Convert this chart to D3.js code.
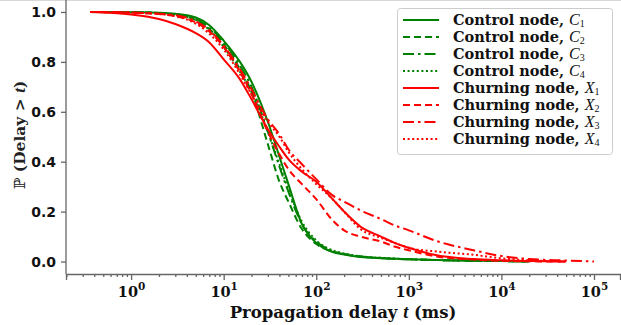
<!DOCTYPE html>
<html>
<head>
<meta charset="utf-8">
<script src="https://cdn.jsdelivr.net/npm/d3@7"></script>
<style>
  body { margin: 0; background: #fff; }
  svg { display: block; }
</style>
</head>
<body>
<svg id="chart" width="621" height="325"></svg>
<script>
// propagation delay samples (ms), shared by all curves
const delays = [0.36, 1, 2, 3, 5, 7, 10, 15, 20, 30, 40, 50, 70, 100, 150, 200, 300, 500, 700, 1000, 2000, 5000, 10000, 20000, 50000, 100000];

// P(Delay > t), null = curve already ended
const control1 = [1.0, 0.999, 0.997, 0.993, 0.978, 0.947, 0.885, 0.80, 0.72, 0.56, 0.42, 0.31, 0.15, 0.075, 0.038, 0.028, 0.018, 0.013, 0.011, 0.009, 0.006, 0.003, 0.002, 0.0, null, null];
const control2 = [1.0, 0.999, 0.995, 0.988, 0.968, 0.932, 0.87, 0.77, 0.68, 0.47, 0.32, 0.24, 0.13, 0.07, 0.04, 0.03, 0.02, 0.014, 0.011, 0.009, 0.006, 0.003, 0.002, 0.0, null, null];
const control3 = [1.0, 0.999, 0.996, 0.99, 0.972, 0.937, 0.88, 0.785, 0.70, 0.52, 0.38, 0.28, 0.15, 0.08, 0.042, 0.03, 0.02, 0.014, 0.011, 0.009, 0.006, 0.003, 0.002, 0.0, null, null];
const control4 = [1.0, 0.999, 0.995, 0.988, 0.968, 0.928, 0.86, 0.76, 0.68, 0.52, 0.39, 0.29, 0.16, 0.085, 0.045, 0.032, 0.021, 0.015, 0.012, 0.009, 0.006, 0.003, 0.002, 0.0, null, null];
const churn1 = [1.0, 0.99, 0.972, 0.952, 0.915, 0.878, 0.81, 0.73, 0.65, 0.53, 0.46, 0.41, 0.36, 0.32, 0.25, 0.20, 0.14, 0.10, 0.075, 0.055, 0.025, 0.01, 0.005, 0.002, 0.0, null];
const churn2 = [1.0, 0.997, 0.992, 0.983, 0.958, 0.922, 0.86, 0.76, 0.67, 0.52, 0.43, 0.37, 0.31, 0.25, 0.165, 0.125, 0.10, 0.08, 0.06, 0.045, 0.02, 0.008, 0.003, 0.001, 0.0, null];
const churn3 = [1.0, 0.998, 0.993, 0.987, 0.963, 0.927, 0.865, 0.77, 0.69, 0.57, 0.51, 0.45, 0.39, 0.33, 0.265, 0.24, 0.205, 0.17, 0.145, 0.125, 0.082, 0.045, 0.022, 0.01, 0.004, 0.0];
const churn4 = [1.0, 0.997, 0.992, 0.983, 0.953, 0.913, 0.85, 0.75, 0.67, 0.56, 0.50, 0.44, 0.37, 0.31, 0.25, 0.20, 0.13, 0.095, 0.075, 0.055, 0.04, 0.027, 0.013, 0.005, 0.0, null];

const seriesNames = ["Control node, ", "Control node, ", "Control node, ", "Control node, ",
                     "Churning node, ", "Churning node, ", "Churning node, ", "Churning node, "];
const seriesSymbols = ["C", "C", "C", "C", "X", "X", "X", "X"];
const seriesIndex = ["1", "2", "3", "4", "1", "2", "3", "4"];
const seriesValues = [control1, control2, control3, control4, churn1, churn2, churn3, churn4];

const yTicks = [0.0, 0.2, 0.4, 0.6, 0.8, 1.0];
const xMajorTicks = [1, 10, 100, 1000, 10000, 100000];

const colors = ["green", "green", "green", "green", "red", "red", "red", "red"];
const dashes = [null, "7,4", "11,4,2.5,4", "2,2.6", null, "7,4", "11,4,2.5,4", "2,2.6"];

const svg = d3.select("#chart");
const serif = "'DejaVu Serif', serif";
const mathFont = "'Liberation Serif', serif";

const xScale = d3.scaleLog().domain([0.198, 191000]).range([66, 620]);
const yScale = d3.scaleLinear().domain([-0.05, 1.05]).range([274, -0.5]);

// faint frame line at the top
svg.append("line")
   .attr("x1", 0).attr("x2", 621).attr("y1", 0.5).attr("y2", 0.5)
   .attr("stroke", "#d8d8d8").attr("stroke-width", 1);

// curves
const line = d3.line()
               .defined(d => d[1] !== null)
               .x(d => xScale(d[0]))
               .y(d => yScale(d[1]))
               .curve(d3.curveMonotoneX);

seriesValues.forEach((vals, i) => {
  svg.append("path")
     .datum(delays.map((t, k) => [t, vals[k]]))
     .attr("d", line)
     .attr("fill", "none")
     .attr("stroke", colors[i])
     .attr("stroke-width", 2)
     .attr("stroke-dasharray", dashes[i]);
});

// x axis: minor ticks first, then majors with labels
const minorTicks = [];
for (let e = -1; e <= 5; e++) {
  for (let m = 2; m <= 9; m++) {
    const v = m * Math.pow(10, e);
    if (v >= 0.198 && v <= 191000) minorTicks.push(v);
  }
}

svg.append("g")
   .attr("class", "x-minor")
   .attr("transform", "translate(0,274)")
   .call(d3.axisBottom(xScale).tickValues(minorTicks).tickSize(3).tickFormat(""))
   .call(g => g.select(".domain").remove());

const xAxis = svg.append("g")
   .attr("class", "x-axis")
   .attr("transform", "translate(0,274)")
   .call(d3.axisBottom(xScale).tickValues(xMajorTicks).tickSize(6).tickFormat(""));

xAxis.selectAll(".tick").append("text")
     .attr("y", 23)
     .attr("text-anchor", "middle")
     .attr("fill", "#111")
     .style("font-family", serif)
     .style("font-weight", "bold")
     .style("font-size", "14.5px")
     .each(function(d) {
       const t = d3.select(this);
       t.append("tspan").text("10");
       t.append("tspan").attr("dy", -7).style("font-size", "10.5px").text(Math.round(Math.log10(d)));
     });

// y axis
svg.append("g")
   .attr("class", "y-axis")
   .attr("transform", "translate(66,0)")
   .call(d3.axisLeft(yScale).tickValues(yTicks).tickSize(5).tickPadding(5).tickFormat(d3.format(".1f")))
   .call(g => g.select(".domain").attr("d", "M0,-0.5V274"))
   .selectAll("text")
   .attr("fill", "#111")
   .style("font-family", "'DejaVu Sans', sans-serif")
   .style("font-weight", "bold")
   .style("font-size", "14px");

svg.selectAll(".x-axis path, .x-axis line, .x-minor line, .y-axis path, .y-axis line")
   .attr("stroke", "#666")
   .attr("stroke-width", 1.3);

// axis titles
const xTitle = svg.append("text")
   .attr("x", 343).attr("y", 318)
   .attr("text-anchor", "middle")
   .attr("fill", "#111")
   .style("font-family", serif).style("font-weight", "bold").style("font-size", "16.5px");
xTitle.append("tspan").text("Propagation delay ");
xTitle.append("tspan").style("font-family", mathFont).style("font-style", "italic").style("font-size", "18px").text("t");
xTitle.append("tspan").text(" (ms)");

const yTitle = svg.append("text")
   .attr("transform", "translate(25,135) rotate(-90)")
   .attr("text-anchor", "middle")
   .attr("fill", "#222")
   .style("font-family", serif).style("font-weight", "bold").style("font-size", "15.5px");
yTitle.append("tspan").style("font-weight", "normal").text("\u2119");
yTitle.append("tspan").text(" (Delay > ");
yTitle.append("tspan").style("font-family", mathFont).style("font-style", "italic").style("font-size", "17px").text("t");
yTitle.append("tspan").text(")");

// legend
const legend = svg.append("g").attr("class", "legend");
legend.append("rect")
      .attr("x", 397.5).attr("y", 8.5).attr("width", 215).attr("height", 146)
      .attr("rx", 3)
      .attr("fill", "white").attr("fill-opacity", 0.85)
      .attr("stroke", "#ccc");

seriesNames.forEach((name, i) => {
  const y = 20 + i * 17;
  legend.append("line")
        .attr("x1", 403).attr("x2", 439).attr("y1", y).attr("y2", y)
        .attr("stroke", colors[i]).attr("stroke-width", 2)
        .attr("stroke-dasharray", dashes[i]);
  const t = legend.append("text")
        .attr("x", 453).attr("y", y + 5)
        .attr("fill", "#111")
        .style("font-family", serif).style("font-weight", "bold").style("font-size", "14.5px");
  t.append("tspan").text(name);
  t.append("tspan").style("font-family", mathFont).style("font-style", "italic").style("font-weight", "normal")
   .style("font-size", "16px").text(seriesSymbols[i]);
  t.append("tspan").attr("dy", 2).style("font-family", mathFont).style("font-weight", "normal")
   .style("font-size", "10px").text(seriesIndex[i]);
});
</script>
</body>
</html>
